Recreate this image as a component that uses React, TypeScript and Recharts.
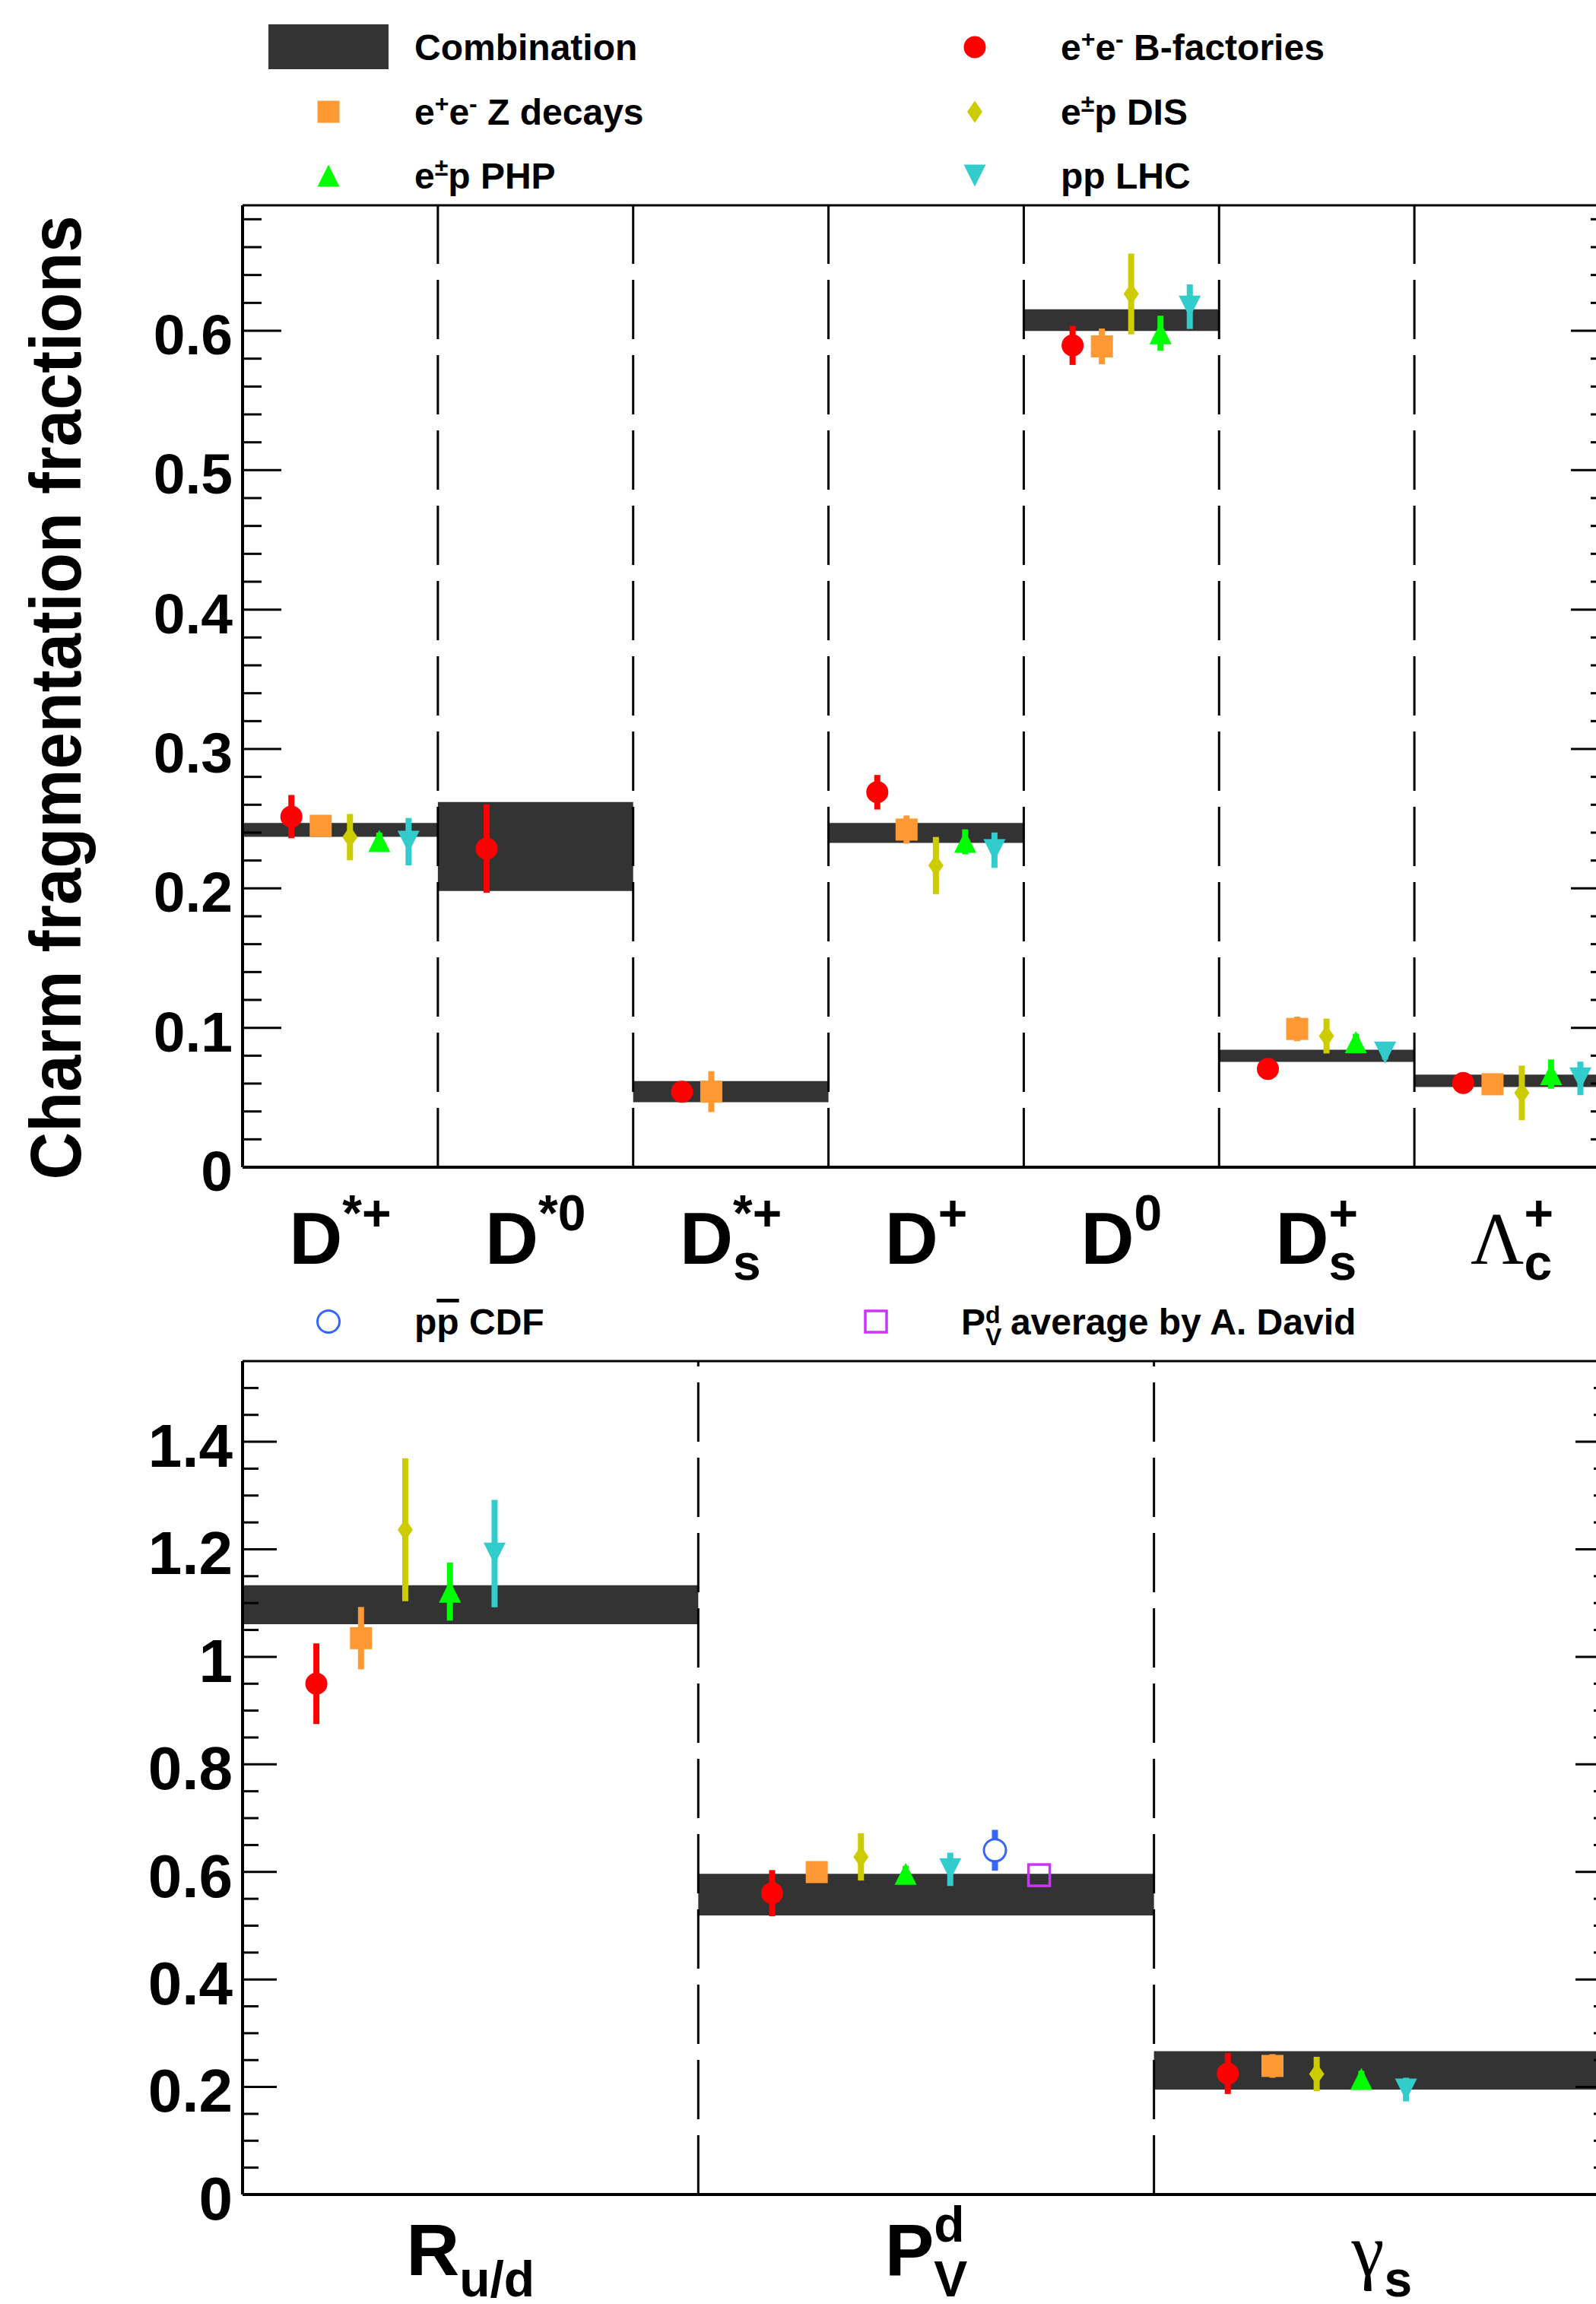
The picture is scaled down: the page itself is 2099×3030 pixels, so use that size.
import React from 'react';
import { ComposedChart, Scatter, ErrorBar, XAxis, YAxis, ReferenceArea, ReferenceLine, Legend } from 'recharts';

const SANS = '"Liberation Sans", Arial, Helvetica, sans-serif';
const SERIF = '"Liberation Serif", "DejaVu Serif", "Times New Roman", serif';

// ---------- legend / series ----------
const seriesNames = [
  'Combination',
  'e^{+}e^{-} B-factories',
  'e^{+}e^{-} Z decays',
  'e^{±}p DIS',
  'e^{±}p PHP',
  'pp LHC',
  'p#bar{p} CDF',
  'P_{V}^{d} average by A. David',
];
const seriesColors = ['#333333', '#ff0000', '#ff9933', '#cccc00', '#00ff00', '#33cccc', '#3366ff', '#cc33ff'];
const seriesShapes = ['box', 'circle', 'square', 'diamond', 'triangle', 'triangleDown', 'openCircle', 'openSquare'];

const yTitle = 'Charm fragmentation fractions';

// ---------- top panel ----------
const topLabels = ['D^{*+}', 'D^{*0}', 'D_{s}^{*+}', 'D^{+}', 'D^{0}', 'D_{s}^{+}', 'Λ_{c}^{+}'];
const topMajor = [0, 0.1, 0.2, 0.3, 0.4, 0.5, 0.6];
const topMajorLabels = ['0', '0.1', '0.2', '0.3', '0.4', '0.5', '0.6'];
const topMax = 0.69;

const topComb = [0.242, 0.23, 0.0542, 0.2398, 0.6076, 0.0799, 0.062];
const topCombErr = [0.005, 0.0319, 0.0076, 0.0071, 0.0078, 0.0044, 0.0044];
const topBfac = [0.2515, 0.2286, 0.0542, 0.269, 0.5895, 0.0705, 0.0604];
const topBfacErr = [0.0155, 0.0317, 0.005, 0.0124, 0.014, 0.004, 0.004];
const topZdec = [0.2449, null, 0.0542, 0.2422, 0.5888, 0.0992, 0.0595];
const topZdecErr = [0.006, null, 0.0147, 0.0101, 0.0128, 0.0088, 0.006];
const topDis = [0.2368, null, null, 0.2164, 0.6264, 0.0941, 0.0533];
const topDisErr = [0.0166, null, null, 0.0205, 0.029, 0.0125, 0.0196];
const topPhp = [0.234, null, null, 0.2334, 0.5982, 0.0897, 0.0668];
const topPhpErr = [0.006, null, null, 0.009, 0.0126, 0.006, 0.0105];
const topLhc = [0.2335, null, null, 0.2274, 0.6173, 0.0822, 0.0637];
const topLhcErr = [0.017, null, null, 0.0127, 0.016, 0.005, 0.012];

// ---------- bottom panel ----------
const botLabels = ['R_{u/d}', 'P_{V}^{d}', 'γ_{s}'];
const botMajor = [0, 0.2, 0.4, 0.6, 0.8, 1, 1.2, 1.4];
const botMajorLabels = ['0', '0.2', '0.4', '0.6', '0.8', '1', '1.2', '1.4'];
const botMax = 1.55;

const botComb = [1.097, 0.5576, 0.2309];
const botCombErr = [0.0363, 0.0387, 0.0357];
const botBfac = [0.95, 0.5604, 0.2249];
const botBfacErr = [0.075, 0.043, 0.038];
const botZdec = [1.0347, 0.5996, 0.2391];
const botZdecErr = [0.058, 0.018, 0.022];
const botDis = [1.2365, 0.628, 0.2241];
const botDisErr = [0.133, 0.044, 0.032];
const botPhp = [1.1213, 0.5963, 0.215];
const botPhpErr = [0.054, 0.015, 0.015];
const botLhc = [1.192, 0.6048, 0.1952];
const botLhcErr = [0.1, 0.031, 0.022];
const botCdf = [null, 0.6402, null];
const botCdfErr = [null, 0.038, null];
const botDavid = [null, 0.5939, null];

// marker x position inside a category (fraction of category width)
const topOffsets = [0.25, 0.4, 0.55, 0.7, 0.85];
const botOffsets = [0.162, 0.26, 0.357, 0.455, 0.553, 0.651, 0.748];

type Pt = { x: number; y: number; err: number };
const toPoints = (vals: (number | null)[], errs: (number | null)[] | null, off: number): Pt[] =>
  vals
    .map((v, i) => (v == null ? null : { x: i + off, y: v, err: errs?.[i] ?? 0 }))
    .filter((p): p is Pt => p !== null);

const minorTicks = (step: number, max: number) => {
  const t: number[] = [];
  for (let v = 0; v < max - 1e-9; v += step) t.push(Math.round(v * 1000) / 1000);
  return t;
};

// ---------- ROOT-like rich text ----------
const charW: Record<string, number> = { s: 0.556, c: 0.556, V: 0.667, d: 0.611, u: 0.611, '/': 0.278, '+': 0.584, '-': 0.333, '*': 0.389, '0': 0.556 };
const estW = (t: string) => [...t].reduce((a, ch) => a + (charW[ch] ?? 0.6), 0);

type Seg = { t: string; mode: 0 | 1 | -1; bar?: boolean };
function parseRich(src: string): Seg[] {
  const segs: Seg[] = [];
  let buf = '';
  let i = 0;
  const flush = () => {
    if (buf) segs.push({ t: buf, mode: 0 });
    buf = '';
  };
  while (i < src.length) {
    if ((src[i] === '^' || src[i] === '_') && src[i + 1] === '{') {
      flush();
      const end = src.indexOf('}', i);
      segs.push({ t: src.slice(i + 2, end), mode: src[i] === '^' ? 1 : -1 });
      i = end + 1;
    } else if (src.startsWith('#bar{', i)) {
      flush();
      const end = src.indexOf('}', i);
      segs.push({ t: src.slice(i + 5, end), mode: 0, bar: true });
      i = end + 1;
    } else {
      buf += src[i];
      i++;
    }
  }
  flush();
  return segs;
}

function Rich({ x, y, src, size, small, up, down, anchor = 'start' }: any) {
  const segs = parseRich(src);
  let shift = 0;
  return (
    <text x={x} y={y} textAnchor={anchor} fontFamily={SANS} fontWeight="bold" fontSize={size} fill="#000">
      {segs.map((s, k) => {
        const target = s.mode === 1 ? -up : s.mode === -1 ? down : 0;
        const dy = target - shift;
        shift = target;
        const prev = segs[k - 1];
        const dx = prev && prev.mode !== 0 && s.mode !== 0 && prev.mode !== s.mode ? -estW(prev.t) * small : 0;
        const greek = /[\u0370-\u03ff]/.test(s.t);
        return (
          <tspan
            key={k}
            dx={dx || undefined}
            dy={dy || undefined}
            fontSize={s.mode ? small : size}
            fontFamily={greek ? SERIF : undefined}
            fontWeight={greek ? 'normal' : undefined}
            style={s.bar ? { textDecoration: 'overline' } : undefined}
          >
            {s.t}
          </tspan>
        );
      })}
    </text>
  );
}

// ---------- markers ----------
function Marker({ cx, cy, kind, color }: any) {
  const h = 14.5;
  switch (kind) {
    case 'circle':
      return <circle cx={cx} cy={cy} r={h} fill={color} />;
    case 'square':
      return <rect x={cx - h} y={cy - h} width={2 * h} height={2 * h} fill={color} />;
    case 'diamond':
      return <polygon points={`${cx},${cy - h} ${cx + 10},${cy} ${cx},${cy + h} ${cx - 10},${cy}`} fill={color} />;
    case 'triangle':
      return <polygon points={`${cx},${cy - h} ${cx + h},${cy + h} ${cx - h},${cy + h}`} fill={color} />;
    case 'triangleDown':
      return <polygon points={`${cx},${cy + h} ${cx + h},${cy - h} ${cx - h},${cy - h}`} fill={color} />;
    case 'openCircle':
      return <circle cx={cx} cy={cy} r={h} fill="#fff" stroke={color} strokeWidth={3} />;
    case 'openSquare':
      return <rect x={cx - 14} y={cy - 14} width={28} height={28} fill="none" stroke={color} strokeWidth={3.5} />;
    default:
      return null;
  }
}

// ---------- axis ticks ----------
function YTick({ x, y, payload, majors, majorLabels, side, major, minor, fs }: any) {
  const idx = majors.findIndex((m: number) => Math.abs(m - payload.value) < 1e-6);
  const len = idx >= 0 ? major : minor;
  const dir = side === 'left' ? 1 : -1;
  return (
    <g>
      <line x1={x} y1={y} x2={x + dir * len} y2={y} stroke="#000" strokeWidth={3} />
      {side === 'left' && idx >= 0 && (
        <text x={x - 13} y={y + fs * 0.36 + 4} textAnchor="end" fontFamily={SANS} fontWeight="bold" fontSize={fs} fill="#000">
          {majorLabels[idx]}
        </text>
      )}
    </g>
  );
}

function CatTick({ x, y, payload, labels, drop, down }: any) {
  const i = Math.floor(payload.value);
  return <Rich x={x} y={y + drop} src={labels[i]} size={97} small={66} up={44} down={down} anchor="middle" />;
}

function AxisTitle(props: any) {
  const vb = props.viewBox ?? { x: 219, y: 270, width: 100, height: 1265 };
  const cx = vb.x + vb.width - 213;
  const cy = vb.y + vb.height / 2 + 15;
  return (
    <text
      transform={`translate(${cx},${cy}) rotate(-90)`}
      textAnchor="middle"
      fontFamily={SANS}
      fontWeight="bold"
      fontSize={95}
      textLength={1268}
      lengthAdjust="spacingAndGlyphs"
      fill="#000"
    >
      {yTitle}
    </text>
  );
}

// ---------- legends ----------
const legendMarkX = [432, 1282];
const legendTextX = [545, 1395];
const legendRowY = [62, 147, 231];

function TopLegend() {
  return (
    <svg width={2099} height={270} style={{ display: 'block' }}>
      {[0, 1, 2, 3, 4, 5].map((k) => {
        const col = k % 2;
        const cy = legendRowY[Math.floor(k / 2)];
        return (
          <g key={k}>
            {k === 0 ? (
              <rect x={353} y={32} width={158} height={59} fill={seriesColors[0]} />
            ) : (
              <Marker cx={legendMarkX[col]} cy={cy} kind={seriesShapes[k]} color={seriesColors[k]} />
            )}
            <Rich x={legendTextX[col]} y={cy + 17} src={seriesNames[k]} size={48} small={32} up={17} down={13} />
          </g>
        );
      })}
    </svg>
  );
}

function BottomLegend() {
  const xs = [432, 1152];
  const tx = [545, 1264];
  return (
    <svg width={2099} height={100} style={{ display: 'block' }}>
      {[6, 7].map((k, j) => (
        <g key={k}>
          <Marker cx={xs[j]} cy={58} kind={seriesShapes[k]} color={seriesColors[k]} />
          <Rich x={tx[j]} y={75} src={seriesNames[k]} size={48} small={32} up={15} down={14} />
        </g>
      ))}
    </svg>
  );
}

// ---------- one panel ----------
function Panel(props: any) {
  const { height, mTop, mBottom, xHeight, labels, yMax, ticks, majors, majorLabels, fs, tickMajor, tickMinor, drop, down, comb, combErr, series, legend, title } = props;
  const ncat = labels.length;
  const catTicks = labels.map((_: string, i: number) => i + 0.5);
  return (
    <ComposedChart width={2200} height={height} margin={{ top: mTop, right: 43, bottom: mBottom, left: 219 }}>
      <XAxis
        type="number"
        dataKey="x"
        domain={[0, ncat]}
        ticks={catTicks}
        interval={0}
        allowDataOverflow
        tickSize={0}
        tickMargin={0}
        height={xHeight}
        tickLine={false}
        axisLine={{ stroke: '#000', strokeWidth: 4 }}
        tick={(p: any) => <CatTick {...p} labels={labels} drop={drop} down={down} />}
      />
      <YAxis
        yAxisId="l"
        type="number"
        dataKey="y"
        domain={[0, yMax]}
        ticks={ticks}
        interval={0}
        allowDataOverflow
        width={100}
        tickSize={0}
        tickMargin={0}
        tickLine={false}
        axisLine={{ stroke: '#000', strokeWidth: 4 }}
        tick={(p: any) => <YTick {...p} majors={majors} majorLabels={majorLabels} side="left" major={tickMajor} minor={tickMinor} fs={fs} />}
        label={title ? { content: AxisTitle } : undefined}
      />
      <YAxis
        yAxisId="r"
        orientation="right"
        type="number"
        domain={[0, yMax]}
        ticks={ticks}
        interval={0}
        allowDataOverflow
        width={40}
        tickSize={0}
        tickMargin={0}
        tickLine={false}
        axisLine={{ stroke: '#000', strokeWidth: 4 }}
        tick={(p: any) => <YTick {...p} majors={majors} majorLabels={majorLabels} side="right" major={tickMajor} minor={tickMinor} fs={fs} />}
      />
      {comb.map((v: number, i: number) => (
        <ReferenceArea
          key={`c${i}`}
          yAxisId="l"
          x1={i}
          x2={i + 1}
          y1={v - combErr[i]}
          y2={v + combErr[i]}
          fill={seriesColors[0]}
          fillOpacity={1}
          stroke="none"
          ifOverflow="visible"
        />
      ))}
      {labels.slice(1).map((_: string, i: number) => (
        <ReferenceLine
          key={`s${i}`}
          yAxisId="l"
          segment={[
            { x: i + 1, y: 0 },
            { x: i + 1, y: yMax },
          ]}
          stroke="#000"
          strokeWidth={3}
          strokeDasharray="78 21"
        />
      ))}
      <ReferenceLine yAxisId="l" y={yMax} stroke="#000" strokeWidth={3} />
      {series.map((s: any) => (
        <Scatter
          key={s.k}
          yAxisId="l"
          data={s.points}
          isAnimationActive={false}
          shape={(p: any) => <Marker cx={p.cx} cy={p.cy} kind={seriesShapes[s.k]} color={seriesColors[s.k]} />}
        >
          {s.hasErr && (
            <ErrorBar dataKey="err" direction="y" width={0} stroke={seriesColors[s.k]} strokeWidth={8} isAnimationActive={false} />
          )}
        </Scatter>
      ))}
      <Legend
        verticalAlign="middle"
        layout="horizontal"
        wrapperStyle={{ top: 0, left: 0, width: 2099 }}
        content={() => legend}
      />
    </ComposedChart>
  );
}

export default function App() {
  const topSeries = [
    { k: 1, points: toPoints(topBfac, topBfacErr, topOffsets[0]), hasErr: true },
    { k: 2, points: toPoints(topZdec, topZdecErr, topOffsets[1]), hasErr: true },
    { k: 3, points: toPoints(topDis, topDisErr, topOffsets[2]), hasErr: true },
    { k: 4, points: toPoints(topPhp, topPhpErr, topOffsets[3]), hasErr: true },
    { k: 5, points: toPoints(topLhc, topLhcErr, topOffsets[4]), hasErr: true },
  ];
  const botSeries = [
    { k: 1, points: toPoints(botBfac, botBfacErr, botOffsets[0]), hasErr: true },
    { k: 2, points: toPoints(botZdec, botZdecErr, botOffsets[1]), hasErr: true },
    { k: 3, points: toPoints(botDis, botDisErr, botOffsets[2]), hasErr: true },
    { k: 4, points: toPoints(botPhp, botPhpErr, botOffsets[3]), hasErr: true },
    { k: 5, points: toPoints(botLhc, botLhcErr, botOffsets[4]), hasErr: true },
    { k: 6, points: toPoints(botCdf, botCdfErr, botOffsets[5]), hasErr: true },
    { k: 7, points: toPoints(botDavid, null, botOffsets[6]), hasErr: false },
  ];

  return (
    <div style={{ position: 'absolute', left: 0, top: 0, width: 2099, height: 3030, overflow: 'hidden', background: '#fff' }}>
      <div style={{ position: 'absolute', left: 0, top: 0 }}>
        <Panel
          height={1760}
          mTop={270}
          mBottom={75}
          xHeight={150}
          labels={topLabels}
          yMax={topMax}
          ticks={minorTicks(0.02, topMax)}
          majors={topMajor}
          majorLabels={topMajorLabels}
          fs={75}
          tickMajor={51}
          tickMinor={25}
          drop={127}
          down={21}
          comb={topComb}
          combErr={topCombErr}
          series={topSeries}
          legend={<TopLegend />}
          title
        />
      </div>
      <div style={{ position: 'absolute', left: 0, top: 1680 }}>
        <Panel
          height={1350}
          mTop={110}
          mBottom={0}
          xHeight={144}
          labels={botLabels}
          yMax={botMax}
          ticks={minorTicks(0.05, botMax)}
          majors={botMajor}
          majorLabels={botMajorLabels}
          fs={80}
          tickMajor={45}
          tickMinor={21}
          drop={106}
          down={28}
          comb={botComb}
          combErr={botCombErr}
          series={botSeries}
          legend={<BottomLegend />}
          title={false}
        />
      </div>
    </div>
  );
}
